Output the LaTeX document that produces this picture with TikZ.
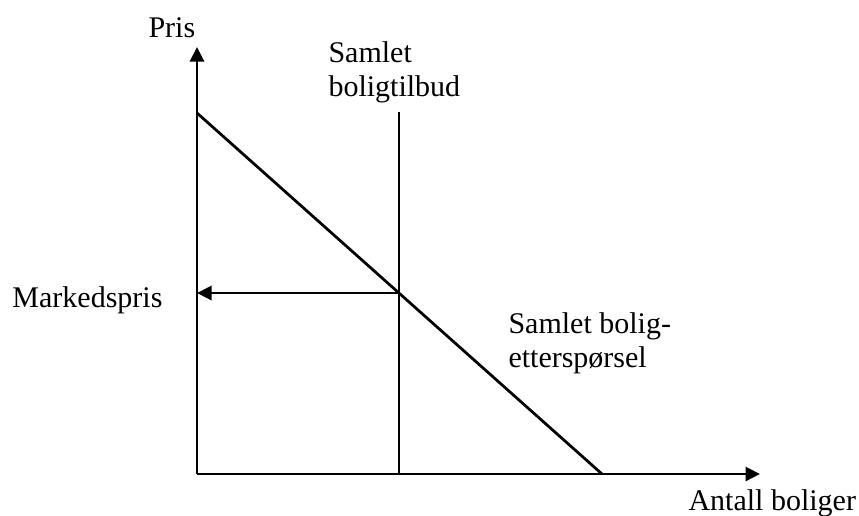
\documentclass[tikz,border=0pt]{standalone}
\usepackage{fontspec}
\setmainfont{Liberation Serif}
\usepackage{tikz}
\usetikzlibrary{arrows.meta}

\tikzset{
  akse/.style={line width=1.1pt,-{Triangle[length=5.8pt,width=5.6pt]}},
  kurve/.style={line width=1.1pt},
  tekst/.style={anchor=base west,inner sep=0pt,align=left,font=\fontsize{12}{13.6}\selectfont}
}

\begin{document}
\begin{tikzpicture}[x=0.4pt,y=-0.4pt]
\useasboundingbox (0,0) rectangle (859,515);
% akser
\coordinate (origo) at (197,474);
\coordinate (ytopp) at (197,47);
\coordinate (xende) at (760,474);
\draw[akse] (origo)--(ytopp);
\draw[akse] (origo)--(xende);
% etterspoersel og tilbud
\coordinate (dstart) at (197,113);
\coordinate (dslutt) at (602,474);
\coordinate (stopp) at (399,112);
\coordinate (sbunn) at (399,474);
\coordinate (likevekt) at (399,293);
\coordinate (pakse) at (197,293);
\draw[kurve] (dstart)--(dslutt);
\draw[kurve] (sbunn)--(stopp);
\draw[akse] (likevekt)--(pakse);
% tekster
\node[tekst] (pris) at (148,37) {Pris};
\node[tekst] (antall) at (688,510) {Antall boliger};
\node[tekst] (markedspris) at (12,307) {Markedspris};
\node[tekst] (tilbud) at (328,96) {Samlet\\boligtilbud};
\node[tekst] (ettersp) at (508,367) {Samlet bolig-\\etterspørsel};
\end{tikzpicture}
\end{document}
